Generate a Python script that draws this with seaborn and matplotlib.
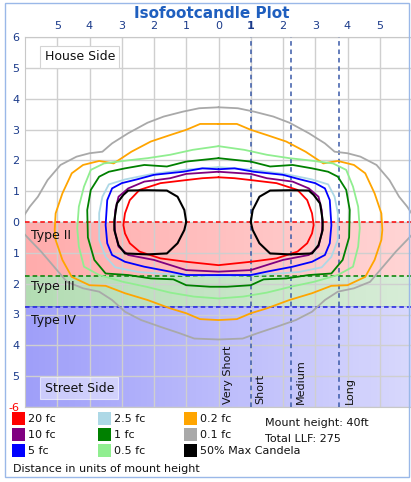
import numpy as np
import seaborn as sns
import matplotlib.pyplot as plt
from matplotlib.patches import Rectangle

# Isofootcandle contours (right half, x >= 0, top -> bottom)
fc01_x = [0, 0.6, 1.1, 1.7, 2.2, 2.8, 3.3, 3.6, 4.0, 4.4, 4.9, 5.3, 5.6, 5.85, 6.1, 6.1,
          5.85, 5.5, 5.1, 4.7, 4.2, 3.7, 3.3, 2.9, 2.4, 1.8, 1.2, 0.75, 0]
fc01_y = [3.72, 3.69, 3.58, 3.42, 3.22, 2.88, 2.55, 2.28, 2.23, 2.12, 1.85, 1.36, 0.82, 0.5, 0.1, -0.3,
          -0.58, -0.96, -1.45, -1.94, -2.15, -2.26, -2.53, -2.91, -3.18, -3.4, -3.61, -3.78, -3.81]

fc02_x = [0, 0.57, 1.0, 1.5, 2.1, 2.7, 3.25, 3.7, 4.2, 4.55, 4.84, 5.05, 5.08,
          5.05, 4.84, 4.55, 4.0, 3.5, 2.9, 2.2, 1.5, 1.0, 0.57, 0]
fc02_y = [3.18, 3.18, 2.99, 2.82, 2.61, 2.28, 1.9, 1.98, 1.85, 1.58, 0.93, 0.28, -0.26,
          -0.58, -1.23, -1.78, -2.05, -2.07, -2.31, -2.53, -2.8, -2.96, -3.15, -3.18]

fc05_x = [0, 0.8, 1.5, 2.2, 2.8, 3.55, 3.96, 4.17, 4.33, 4.38, 4.33, 4.17, 3.7, 2.96, 2.24, 1.5, 0.76, 0]
fc05_y = [2.46, 2.34, 2.18, 2.07, 2.0, 1.9, 1.69, 1.15, 0.5, -0.2, -0.8, -1.45, -1.72, -1.94, -2.1, -2.29, -2.42, -2.48]

fc1_x = [0, 1.0, 1.6, 2.3, 2.9, 3.4, 3.7, 3.96, 4.07, 4.05, 3.85, 3.5, 2.8, 2.1, 1.4, 1.0, 0.26, 0]
fc1_y = [2.07, 1.96, 1.8, 1.85, 1.74, 1.63, 1.47, 1.04, 0.39, -0.5, -1.23, -1.67, -1.72, -1.83, -1.86, -2.05, -2.1, -2.1]

fc25_x = [0, 1.0, 2.1, 2.9, 3.4, 3.6, 3.7, 3.7, 3.5, 3.2, 2.5, 1.5, 0]
fc25_y = [1.78, 1.7, 1.55, 1.38, 1.22, 0.82, 0.29, -0.58, -1.13, -1.47, -1.62, -1.7, -1.77]

fc5_x = [0, 0.5, 1.1, 2.0, 2.5, 3.0, 3.3, 3.45, 3.5, 3.45, 3.3, 2.9, 2.3, 1.5, 1.0, 0]
fc5_y = [1.71, 1.74, 1.63, 1.53, 1.39, 1.26, 1.09, 0.71, -0.1, -0.69, -1.07, -1.29, -1.45, -1.61, -1.72, -1.72]

fc10_x = [0, 1.0, 1.5, 2.3, 2.8, 3.1, 3.2, 3.22, 3.2, 3.1, 2.8, 2.0, 1.0, 0]
fc10_y = [1.63, 1.56, 1.42, 1.31, 1.09, 0.82, 0.39, -0.1, -0.37, -0.8, -1.07, -1.23, -1.56, -1.61]

fc20_x = [0, 0.5, 1.0, 1.8, 2.45, 2.75, 2.9, 2.95, 2.9, 2.75, 2.45, 1.8, 1.0, 0]
fc20_y = [1.45, 1.42, 1.36, 1.26, 1.04, 0.71, 0.28, -0.1, -0.37, -0.69, -0.96, -1.18, -1.29, -1.4]

# 50% max candela lobe (right one, the left one is its mirror)
cand_x = [1.0, 1.06, 1.27, 1.6, 2.2, 2.8, 2.95, 3.15, 3.23, 3.23, 3.1, 2.9, 2.2, 1.6, 1.27, 1.06, 1.0]
cand_y = [0.0, 0.39, 0.82, 1.02, 1.03, 1.02, 0.88, 0.6, 0.06, -0.26, -0.75, -1.02, -1.05, -1.02, -0.69, -0.26, 0.0]

contours = [
    ('0.1 fc', '#a9a9a9', fc01_x, fc01_y),
    ('0.2 fc', '#ffa500', fc02_x, fc02_y),
    ('0.5 fc', '#90ee90', fc05_x, fc05_y),
    ('1 fc', '#008000', fc1_x, fc1_y),
    ('2.5 fc', '#add8e6', fc25_x, fc25_y),
    ('5 fc', '#0000ff', fc5_x, fc5_y),
    ('10 fc', '#800080', fc10_x, fc10_y),
    ('20 fc', '#ff0000', fc20_x, fc20_y),
]

# IES distribution types (street side bands) and throw lines
type_names = ['Type II', 'Type III', 'Type IV']
type_edges = [0, -1.75, -2.75, -6]
type_colors = [(1.0, 0.0, 0.0), (0.0, 0.55, 0.0), (0.1, 0.1, 0.95)]
type_line_colors = ['#ff0000', '#008000', '#2020e0']
type_label_y = [-0.45, -2.1, -3.18]

throw_names = ['Very Short', 'Short', 'Medium', 'Long']
throw_lines = [1, 2.25, 3.75]
throw_label_x = [0.31, 1.3, 2.54, 4.06]

legend_labels = ['20 fc', '10 fc', '5 fc', '2.5 fc', '1 fc', '0.5 fc', '0.2 fc', '0.1 fc', '50% Max Candela']
legend_colors = ['#ff0000', '#800080', '#0000ff', '#add8e6', '#008000', '#90ee90', '#ffa500', '#a9a9a9', '#000000']
info_lines = ['Mount height: 40ft', 'Total LLF: 275']

x_ticks = list(range(-5, 6))
y_ticks = list(range(-6, 7))

sns.set_style('white')
plt.rcParams['font.family'] = ['DejaVu Sans']

W, H = 411, 482
fig = plt.figure(figsize=(W / 100, H / 100), dpi=100)
ax = fig.add_axes([25 / W, 1 - 407 / H, 387 / W, 370 / H])

# coloured bands, fading towards the right
ramp = np.linspace(1, 0, 200)
for i, name in enumerate(type_names):
    r, g, b = type_colors[i]
    a0, a1 = [(0.33, 0.17), (0.3, 0.16), (0.42, 0.17)][i]
    img = np.zeros((1, 200, 4))
    img[..., 0], img[..., 1], img[..., 2] = r, g, b
    img[..., 3] = a1 + (a0 - a1) * ramp
    ax.imshow(img, extent=[-6, 6, type_edges[i + 1], type_edges[i]], aspect='auto', zorder=0,
              interpolation='bilinear')
    ax.axhline(type_edges[i], color=type_line_colors[i], lw=1.1, ls=(0, (3, 2)), zorder=3)
    ax.text(-5.82, type_label_y[i], name, fontsize=9, va='center', ha='left', color='#111111', zorder=5)

for xv in throw_lines:
    ax.axvline(xv, color='#3a5aa8', lw=1.1, ls=(0, (3, 2.5)), zorder=3)
for name, xv in zip(throw_names, throw_label_x):
    ax.text(xv, -5.9, name, rotation=90, fontsize=8, ha='center', va='bottom', color='#111111', zorder=5)

for label, color, xs, ys in contours:
    xs = np.array(xs)
    ys = np.array(ys)
    full_x = np.concatenate([xs, -xs[::-1]])
    full_y = np.concatenate([ys, ys[::-1]])
    sns.lineplot(x=full_x, y=full_y, sort=False, estimator=None, color=color, lw=1.3, ax=ax, zorder=4)

cx = np.array(cand_x)
cy = np.array(cand_y)
for sign in (1, -1):
    sns.lineplot(x=sign * cx, y=cy, sort=False, estimator=None, color='black', lw=1.5, ax=ax, zorder=4)

ax.text(-5.39, 5.36, 'House Side', fontsize=9, va='center', ha='left', color='#111111', zorder=6,
        bbox=dict(boxstyle='square,pad=0.35', fc='white', ec='#d4d4d4', lw=0.8))
ax.text(-5.39, -5.39, 'Street Side', fontsize=9, va='center', ha='left', color='#111111', zorder=6,
        bbox=dict(boxstyle='square,pad=0.35', fc=(1, 1, 1, 0.45), ec=(1, 1, 1, 0.6), lw=0.8))

ax.set_xlim(-6, 6)
ax.set_ylim(-6, 6)
ax.set_xticks(x_ticks)
ax.set_yticks(y_ticks)
ax.xaxis.tick_top()
ax.set_xticklabels([str(abs(v)) for v in x_ticks])
ax.set_yticklabels([str(abs(v)) if v > -6 else '-6' for v in y_ticks])
ax.tick_params(length=0, labelsize=8, labelcolor='#1a3a8a', pad=4)
ax.get_yticklabels()[0].set_color('#ff0000')
ax.get_xticklabels()[6].set_fontweight('bold')
ax.grid(True, color='#cfcfcf', lw=1)
ax.set_axisbelow(True)
ax.set_xlabel('')
ax.set_ylabel('')
for s in ax.spines.values():
    s.set_color('#c8c8c8')
    s.set_linewidth(0.8)

fig.text(212 / W, 1 - 13 / H, 'Isofootcandle Plot', ha='center', va='center', fontsize=11,
         fontweight='bold', color='#1f5fbf')

# legend block under the plot
col_x = [12, 98, 184]
row_y = [419, 435, 451]
for i, (lab, col) in enumerate(zip(legend_labels, legend_colors)):
    px = col_x[i // 3]
    py = row_y[i % 3]
    fig.patches.append(Rectangle((px / W, 1 - (py + 6) / H), 13 / W, 13 / H, transform=fig.transFigure,
                                 fc=col, ec='none'))
    fig.text((px + 16) / W, 1 - py / H, lab, fontsize=8, va='center', ha='left', color='#111111')
for i, line in enumerate(info_lines):
    fig.text(265 / W, 1 - (423 + 16 * i) / H, line, fontsize=8, va='center', ha='left', color='#111111')
fig.text(13 / W, 1 - 469 / H, 'Distance in units of mount height', fontsize=8, va='center', ha='left',
         color='#111111')

fig.patches.append(Rectangle((5 / W, 1 - 477 / H), 404 / W, 474 / H, transform=fig.transFigure,
                             fill=False, ec='#9ab8e8', lw=1))

fig.savefig('out.png', dpi=100)
plt.close(fig)
